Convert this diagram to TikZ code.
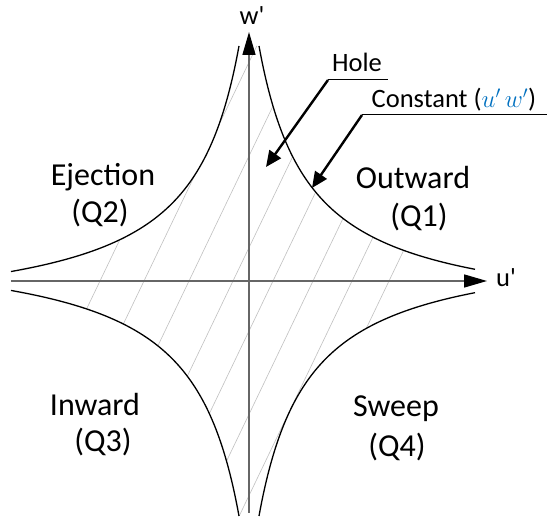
\documentclass[tikz,border=0pt]{standalone}
\usepackage{fontspec}
\setmainfont{Carlito}
\usetikzlibrary{arrows.meta}
\definecolor{mathblue}{RGB}{0,112,192}

\begin{document}
\begin{tikzpicture}[x=1pt, y=1pt,
  declare function={hy(\t)=13750/(abs(\t)+40)-40;},
  axis/.style={black!60, line width=1.5pt, -{Triangle[length=23pt, width=13pt, black]}},
  curve/.style={line width=1.3pt},
  leader/.style={line width=1pt},
  pointer/.style={line width=2.4pt, -{Triangle[length=16pt, width=14pt]}},
  quad/.style={font=\fontsize{32}{38}\selectfont, inner sep=0pt},
  tag/.style={font=\fontsize{26.5}{32}\selectfont, inner sep=0pt}]
  \useasboundingbox (-249,-237) rectangle (300,281);
  \begin{scope}
    \clip plot[domain=10:226, samples=150] ({\x},{hy(\x)}) -- plot[domain=226:10, samples=150] ({\x},{-hy(\x)})
      -- plot[domain=-10:-238, samples=150] ({\x},{-hy(\x)}) -- plot[domain=-238:-10, samples=150] ({\x},{hy(\x)}) -- cycle;
    \foreach \c in {-149,-105,-60,-16,24,64,103,140}
      \draw[gray!50, line width=0.6pt] (\c-120,-250) -- (\c+120,250);
  \end{scope}
  \coordinate (uStart) at (-238,0);
  \coordinate (uEnd) at (238,0);
  \coordinate (wStart) at (0,-232);
  \coordinate (wEnd) at (0,249);
  \draw[axis] (uStart) -- (uEnd);
  \draw[axis] (wStart) -- (wEnd);
  \node[tag, anchor=west] (ulab) at (247,3) {u\textquotesingle};
  \node[tag] (wlab) at (3,265) {w\textquotesingle};
  \draw[curve] plot[domain=10:226, samples=150] ({\x},{hy(\x)});
  \draw[curve] plot[domain=10:226, samples=150] ({\x},{-hy(\x)});
  \draw[curve] plot[domain=-238:-10, samples=150] ({\x},{hy(\x)});
  \draw[curve] plot[domain=-238:-10, samples=150] ({\x},{-hy(\x)});
  \foreach \n/\t/\x/\y in {ej/Ejection/-146/104, ejq/(Q2)/-149/68, out/Outward/164/103, outq/(Q1)/170/64,
      inw/Inward/-154/-124, inwq/(Q3)/-146/-161, sw/Sweep/147/-128, swq/(Q4)/148/-166}
    \node[quad] (\n) at (\x,\y) {\t};
  \coordinate (holeL) at (79,201);
  \coordinate (holeR) at (139,201);
  \coordinate (holeTip) at (17,114);
  \node[tag] (hole) at (108,219) {Hole};
  \draw[leader] (holeL) -- (holeR);
  \draw[pointer] (holeL) -- (holeTip);
  \coordinate (constL) at (113,166);
  \coordinate (constR) at (298,166);
  \coordinate (constTip) at (63,93);
  \node[tag] (const) at (205,181) {Constant (\textcolor{mathblue}{$u'\,w'$})};
  \draw[leader] (constL) -- (constR);
  \draw[pointer] (constL) -- (constTip);
\end{tikzpicture}
\end{document}
